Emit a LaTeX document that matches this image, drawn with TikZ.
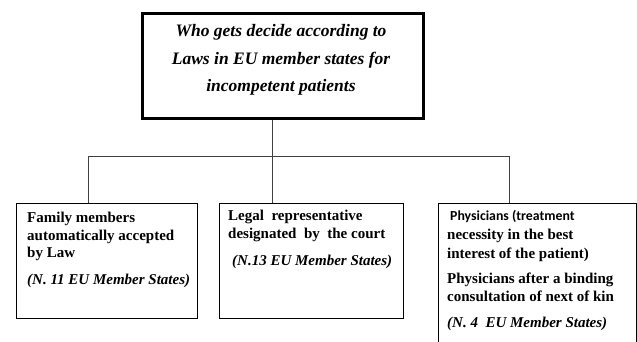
\documentclass[tikz,border=0pt]{standalone}
\usepackage{fontspec}
\setmainfont{Liberation Serif}
\newfontfamily\calib{Carlito}
\begin{document}
\begin{tikzpicture}[x=1pt,y=-1pt,
  box/.style={draw=black, line width=0.9pt, inner sep=0pt, anchor=north west},
  conn/.style={draw=black!75, line width=0.9pt},
  ttl/.style={anchor=base, inner sep=0pt, font=\fontsize{17.5}{20}\selectfont\bfseries\itshape},
  txt/.style={anchor=base west, inner sep=0pt, font=\fontsize{15}{18}\selectfont\bfseries},
  itx/.style={anchor=base west, inner sep=0pt, font=\fontsize{15}{18}\selectfont\bfseries\itshape}]
\clip (0,0) rectangle (637,342);
\fill[white] (0,0) rectangle (637,342);
% top box
\node[box, line width=2.6pt, minimum width=281pt, minimum height=105pt] (top) at (141,12) {};
\node[ttl] (t1) at (281,37) {Who gets decide according to};
\node[ttl] (t2) at (281,65) {Laws in EU member states for};
\node[ttl] (t3) at (281,92) {incompetent patients};
% junctions
\coordinate (j1) at (88,156);
\coordinate (j2) at (272,156);
\coordinate (j3) at (509,156);
% boxes
\node[box, minimum width=181pt, minimum height=115pt] (b1) at (16,203) {};
\node[box, minimum width=184pt, minimum height=115pt] (b2) at (219,203) {};
\node[box, minimum width=198pt, minimum height=160pt] (b3) at (438,203) {};
% connectors
\draw[conn] (j1) -- (j3);
\draw[conn] (top.south -| j2) -- (b2.north -| j2);
\draw[conn] (j1) -- (b1.north -| j1);
\draw[conn] (j3) -- (b3.north -| j3);
% box 1 text
\node[txt] (a1) at (27,222) {Family members};
\node[txt] (a2) at (27,240) {automatically accepted};
\node[txt] (a3) at (27,257) {by Law};
\node[itx] (a4) at (27,284) {(N. 11 EU Member States)};
% box 2 text
\node[txt] (c1) at (228,220) {Legal\ \ representative};
\node[txt] (c2) at (228,238) {designated\ \ by\ \ the court};
\node[itx] (c3) at (232,265) {(N.13 EU Member States)};
% box 3 text
\node[txt, font=\fontsize{13.8}{17}\selectfont\calib\bfseries] (d1) at (450,220) {Physicians (treatment};
\node[txt] (d2) at (447,239) {necessity in the best};
\node[txt] (d3) at (447,258) {interest of the patient)};
\node[txt] (d4) at (447,283) {Physicians after a binding};
\node[txt] (d5) at (447,301) {consultation of next of kin};
\node[itx] (d6) at (447,327) {(N. 4\ \ EU Member States)};
\end{tikzpicture}
\end{document}
